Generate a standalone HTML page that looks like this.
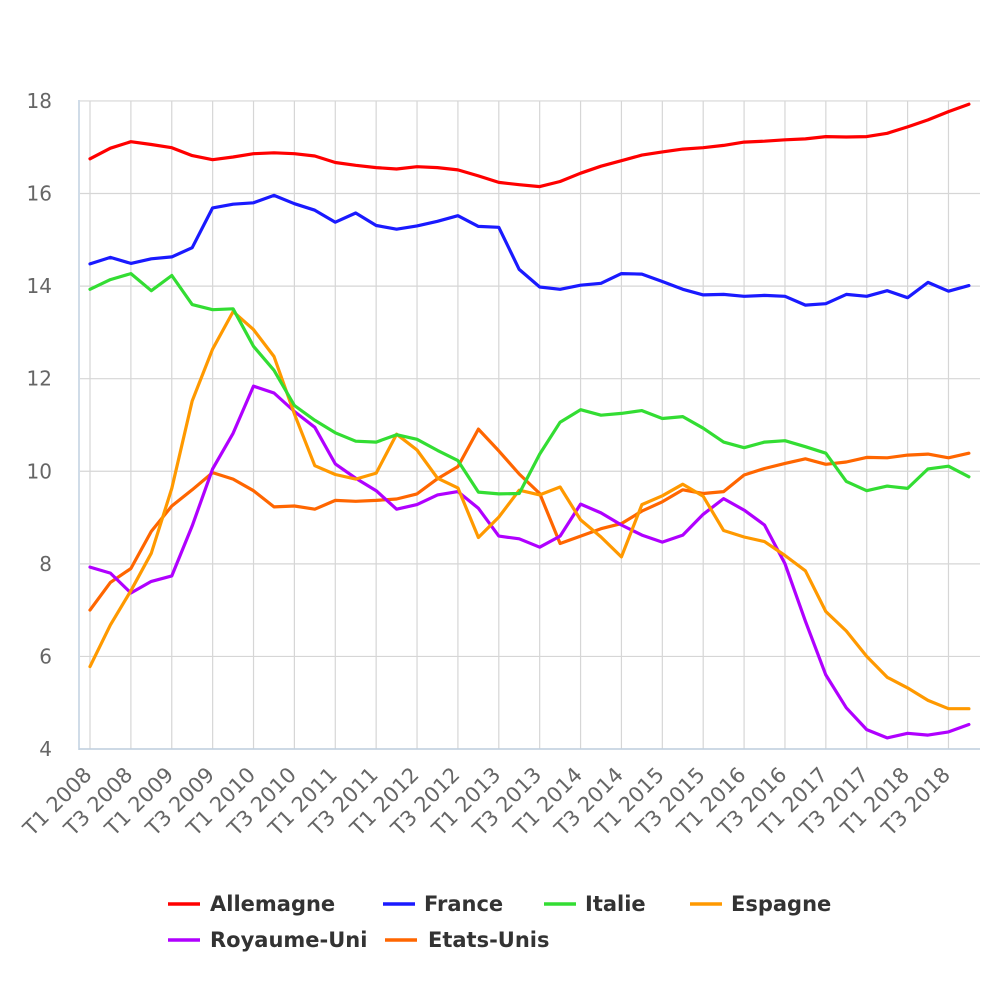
<!DOCTYPE html>
<html><head><meta charset="utf-8"><style>
html,body{margin:0;padding:0;background:#fff;}
svg{display:block;font-family:"DejaVu Sans","Liberation Sans",sans-serif;}
</style></head><body>
<svg id="c" width="1000" height="1000" xmlns="http://www.w3.org/2000/svg">
<rect width="1000" height="1000" fill="#fff"/>
<g id="grid"></g>
<g id="series" fill="none" stroke-width="3.2" stroke-linejoin="round" stroke-linecap="round"></g>
<g id="labels"></g>
<g font-size="21" font-weight="bold" fill="#333">
<line x1="168" y1="904" x2="200" y2="904" stroke="#ff0000" stroke-width="3.5"/><text x="210" y="911">Allemagne</text>
<line x1="383" y1="904" x2="415" y2="904" stroke="#1a1aff" stroke-width="3.5"/><text x="424" y="911">France</text>
<line x1="544" y1="904" x2="576" y2="904" stroke="#33dd33" stroke-width="3.5"/><text x="585" y="911">Italie</text>
<line x1="690" y1="904" x2="722" y2="904" stroke="#ff9900" stroke-width="3.5"/><text x="731" y="911">Espagne</text>
<line x1="168" y1="940" x2="200" y2="940" stroke="#b000ff" stroke-width="3.5"/><text x="210" y="947">Royaume-Uni</text>
<line x1="385" y1="940" x2="417" y2="940" stroke="#ff6600" stroke-width="3.5"/><text x="428" y="947">Etats-Unis</text>
</g>
</svg>
<script>
const NS="http://www.w3.org/2000/svg";
const X=i=>90+i*20.44, Y=v=>749-(v-4)*46.29;
const g=document.getElementById('grid'), s=document.getElementById('series'), L=document.getElementById('labels');
function el(p,t,a,txt){const e=document.createElementNS(NS,t);for(const k in a)e.setAttribute(k,a[k]);if(txt)e.textContent=txt;p.appendChild(e);return e;}
for(let v=4;v<=18;v+=2){el(g,'line',{x1:80,x2:980,y1:Y(v),y2:Y(v),stroke:'#d6d6d6','stroke-width':1.2});
 el(L,'text',{x:52,y:Y(v)+7,'text-anchor':'end','font-size':20,fill:'#666'},String(v));}
const yrs=[2008,2009,2010,2011,2012,2013,2014,2015,2016,2017,2018];
for(let i=0;i<44;i+=2){el(g,'line',{x1:X(i),x2:X(i),y1:101,y2:749,stroke:'#d6d6d6','stroke-width':1.2});
 const lab=(i%4==0?'T1 ':'T3 ')+yrs[Math.floor(i/4)];
 const tx=X(i)+3,ty=776;
 el(L,'text',{x:tx,y:ty,'text-anchor':'end','font-size':21,fill:'#666',transform:`rotate(-45 ${tx} ${ty})`},lab);}
el(g,'line',{x1:79,x2:79,y1:100,y2:750,stroke:'#c0d0e0','stroke-width':1.5});
el(g,'line',{x1:79,x2:980,y1:749,y2:749,stroke:'#c0d0e0','stroke-width':1.5});
const D=[
['#ff0000',[16.75,16.98,17.12,17.06,16.99,16.82,16.73,16.79,16.86,16.88,16.86,16.81,16.67,16.61,16.56,16.53,16.58,16.56,16.51,16.38,16.24,16.19,16.15,16.26,16.44,16.59,16.71,16.83,16.90,16.96,16.99,17.04,17.11,17.13,17.16,17.18,17.23,17.22,17.23,17.30,17.44,17.59,17.77,17.93]],
['#1a1aff',[14.48,14.62,14.49,14.59,14.63,14.83,15.69,15.77,15.80,15.96,15.78,15.64,15.38,15.58,15.31,15.23,15.30,15.40,15.52,15.29,15.27,14.36,13.98,13.93,14.02,14.06,14.27,14.26,14.10,13.93,13.81,13.82,13.78,13.80,13.78,13.59,13.62,13.82,13.78,13.90,13.75,14.08,13.89,14.01]],
['#33dd33',[13.93,14.14,14.27,13.90,14.23,13.60,13.49,13.51,12.70,12.18,11.42,11.10,10.83,10.65,10.63,10.79,10.69,10.45,10.23,9.55,9.51,9.52,10.37,11.06,11.33,11.21,11.25,11.31,11.14,11.18,10.93,10.63,10.51,10.63,10.66,10.53,10.39,9.78,9.58,9.68,9.63,10.05,10.11,9.88]],
['#ff9900',[5.78,6.68,7.42,8.23,9.63,11.52,12.64,13.45,13.06,12.48,11.24,10.12,9.93,9.83,9.96,10.80,10.46,9.85,9.64,8.57,9.01,9.59,9.49,9.66,8.95,8.58,8.15,9.28,9.47,9.72,9.46,8.72,8.58,8.48,8.18,7.85,6.97,6.55,6.00,5.55,5.32,5.05,4.87,4.87]],
['#b000ff',[7.93,7.80,7.37,7.62,7.74,8.82,10.05,10.82,11.84,11.69,11.29,10.95,10.16,9.85,9.58,9.18,9.28,9.49,9.56,9.20,8.60,8.54,8.36,8.60,9.29,9.10,8.84,8.62,8.47,8.62,9.07,9.41,9.16,8.84,8.00,6.76,5.60,4.89,4.42,4.24,4.34,4.30,4.37,4.53]],
['#ff6600',[7.0,7.6,7.9,8.7,9.25,9.6,9.97,9.83,9.58,9.23,9.25,9.18,9.37,9.35,9.37,9.40,9.51,9.84,10.10,10.91,10.44,9.94,9.52,8.44,8.60,8.76,8.87,9.14,9.34,9.60,9.52,9.56,9.92,10.06,10.17,10.27,10.15,10.20,10.30,10.29,10.35,10.37,10.29,10.39]]];
const order=[5,4,3,2,1,0];
for(const k of order){const [c,v]=D[k];el(s,'polyline',{stroke:c,points:v.map((a,i)=>X(i).toFixed(1)+','+Y(a).toFixed(1)).join(' ')});}
</script>
</body></html>
